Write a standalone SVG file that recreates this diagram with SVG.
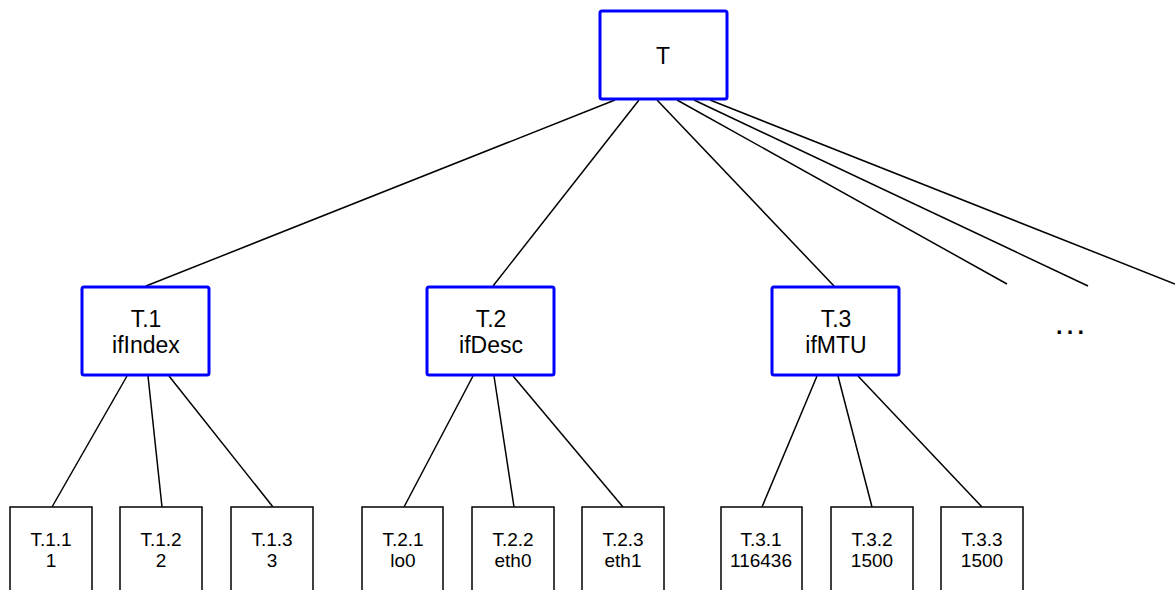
<svg xmlns="http://www.w3.org/2000/svg" width="1175" height="590" viewBox="0 0 1175 590">
<style>
.mid{fill:#fff;stroke:#0000ff;stroke-width:3}
.leaf{fill:#fff;stroke:#000;stroke-width:1.5}
.c{stroke:#000;stroke-width:1.5;fill:none}
text{font-family:"Liberation Sans",Arial,sans-serif;fill:#000;text-anchor:middle}
.big{font-size:23px}
.sm{font-size:19px}
.dots{font-size:34px}
</style>
<rect width="1175" height="590" fill="#fff"/>
<g id="connectors">
<line class="c" x1="615" y1="100" x2="146" y2="286"/>
<line class="c" x1="639" y1="100" x2="493" y2="286"/>
<line class="c" x1="657" y1="100" x2="834" y2="286"/>
<line class="c" x1="677" y1="100" x2="1007" y2="284"/>
<line class="c" x1="694" y1="100" x2="1088" y2="286"/>
<line class="c" x1="710" y1="100" x2="1175" y2="284"/>
<line class="c" x1="127" y1="376" x2="52" y2="507"/>
<line class="c" x1="148" y1="376" x2="162" y2="507"/>
<line class="c" x1="169" y1="376" x2="273" y2="507"/>
<line class="c" x1="473" y1="376" x2="404" y2="507"/>
<line class="c" x1="494" y1="376" x2="514" y2="507"/>
<line class="c" x1="513" y1="376" x2="623" y2="507"/>
<line class="c" x1="817" y1="376" x2="762" y2="507"/>
<line class="c" x1="838" y1="376" x2="872" y2="507"/>
<line class="c" x1="858" y1="376" x2="982" y2="507"/>
</g>
<g id="T"><rect class="mid" x="600" y="11" width="127" height="88" rx="2"/><text class="big" x="663" y="64">T</text></g>
<g id="T1"><rect class="mid" x="82" y="287" width="127" height="88" rx="2"/><text class="big" x="146" y="327">T.1</text><text class="big" x="146" y="353">ifIndex</text></g>
<g id="T2"><rect class="mid" x="427" y="287" width="127" height="88" rx="2"/><text class="big" x="491" y="327">T.2</text><text class="big" x="491" y="353">ifDesc</text></g>
<g id="T3"><rect class="mid" x="772" y="287" width="127" height="88" rx="2"/><text class="big" x="836" y="327">T.3</text><text class="big" x="836" y="353">ifMTU</text></g>
<g id="more"><text class="dots" x="1070" y="334">…</text></g>
<g id="T11"><rect class="leaf" x="10" y="507" width="82" height="90"/><text class="sm" x="51" y="546">T.1.1</text><text class="sm" x="51" y="567">1</text></g>
<g id="T12"><rect class="leaf" x="120" y="507" width="82" height="90"/><text class="sm" x="161" y="546">T.1.2</text><text class="sm" x="161" y="567">2</text></g>
<g id="T13"><rect class="leaf" x="231" y="507" width="82" height="90"/><text class="sm" x="272" y="546">T.1.3</text><text class="sm" x="272" y="567">3</text></g>
<g id="T21"><rect class="leaf" x="362" y="507" width="81" height="90"/><text class="sm" x="403" y="546">T.2.1</text><text class="sm" x="403" y="567">lo0</text></g>
<g id="T22"><rect class="leaf" x="472" y="507" width="82" height="90"/><text class="sm" x="513" y="546">T.2.2</text><text class="sm" x="513" y="567">eth0</text></g>
<g id="T23"><rect class="leaf" x="582" y="507" width="82" height="90"/><text class="sm" x="623" y="546">T.2.3</text><text class="sm" x="623" y="567">eth1</text></g>
<g id="T31"><rect class="leaf" x="721" y="507" width="81" height="90"/><text class="sm" x="761" y="546">T.3.1</text><text class="sm" x="761" y="567">116436</text></g>
<g id="T32"><rect class="leaf" x="831" y="507" width="82" height="90"/><text class="sm" x="872" y="546">T.3.2</text><text class="sm" x="872" y="567">1500</text></g>
<g id="T33"><rect class="leaf" x="941" y="507" width="82" height="90"/><text class="sm" x="982" y="546">T.3.3</text><text class="sm" x="982" y="567">1500</text></g>
</svg>
